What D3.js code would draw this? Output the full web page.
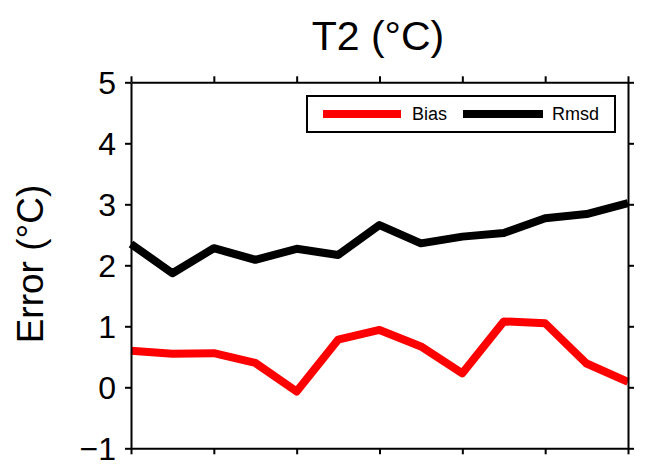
<!DOCTYPE html>
<html>
<head>
<meta charset="utf-8">
<script src="https://cdn.jsdelivr.net/npm/d3@7"></script>
<style>
  html, body { margin: 0; padding: 0; background: #fff; }
  svg { display: block; }
  text { font-family: "Liberation Sans", Arial, sans-serif; }
</style>
</head>
<body>
<svg id="chart" width="665" height="466"></svg>
<script>
const xIndex = [0, 0.5, 1, 1.5, 2, 2.5, 3, 3.5, 4, 4.5, 5, 5.5, 6];
const bias = [0.60, 0.55, 0.56, 0.40, -0.07, 0.78, 0.94, 0.67, 0.23, 1.08, 1.05, 0.39, 0.09];
const rmsd = [2.35, 1.87, 2.28, 2.09, 2.27, 2.17, 2.66, 2.36, 2.47, 2.53, 2.77, 2.84, 3.02];
const yTicks = [-1, 0, 1, 2, 3, 4, 5];
const xTicks = [0, 1, 2, 3, 4, 5, 6];
const seriesNames = ["Bias", "Rmsd"];
const seriesColors = ["#ff0000", "#000000"];
const titleText = "T2 (°C)";
const yLabelText = "Error (°C)";

const svg = d3.select("#chart");
const L = 131, R = 628, T = 82.3, B = 448.3;

const x = d3.scaleLinear().domain([0, 6]).range([L, R]);
const y = d3.scaleLinear().domain([-1, 5]).range([B, T]);

// lines
const line = d3.line().x((d, i) => x(xIndex[i])).y(d => y(d));
[bias, rmsd].forEach((s, k) => {
  svg.append("path")
    .datum(s)
    .attr("d", line)
    .attr("fill", "none")
    .attr("stroke", seriesColors[k])
    .attr("stroke-width", 8)
    .attr("stroke-linejoin", "round");
});

// axes (ticks outward, no labels except left)
function styleAxis(g) {
  g.select(".domain").attr("stroke", "#000").attr("stroke-width", 2);
  g.selectAll(".tick line").attr("stroke", "#000").attr("stroke-width", 2);
}
const axL = svg.append("g").attr("transform", `translate(${L},0)`)
  .call(d3.axisLeft(y).tickValues(yTicks).tickSize(6).tickSizeOuter(0).tickPadding(9)
    .tickFormat(d => d < 0 ? "\u2212" + Math.abs(d) : d));
styleAxis(axL);
axL.selectAll("text").attr("font-size", 32).attr("fill", "#000").attr("dy", "0.36em");

const axR = svg.append("g").attr("transform", `translate(${R},0)`)
  .call(d3.axisRight(y).tickValues(yTicks).tickSize(6).tickSizeOuter(0).tickFormat(""));
styleAxis(axR);

const axT = svg.append("g").attr("transform", `translate(0,${T})`)
  .call(d3.axisTop(x).tickValues(xTicks).tickSize(6).tickSizeOuter(0).tickFormat(""));
styleAxis(axT);

const axB = svg.append("g").attr("transform", `translate(0,${B})`)
  .call(d3.axisBottom(x).tickValues(xTicks).tickSize(6).tickSizeOuter(0).tickFormat(""));
styleAxis(axB);

// title
svg.append("text")
  .attr("x", 378).attr("y", 50)
  .attr("text-anchor", "middle")
  .attr("font-size", 41)
  .attr("fill", "#000")
  .text(titleText);

// y label
svg.append("text")
  .attr("transform", `translate(43,264) rotate(-90)`)
  .attr("text-anchor", "middle")
  .attr("font-size", 37)
  .attr("fill", "#000")
  .text(yLabelText);

// legend
const lg = svg.append("g");
lg.append("rect")
  .attr("x", 307).attr("y", 96).attr("width", 308).attr("height", 36)
  .attr("fill", "#fff").attr("stroke", "#000").attr("stroke-width", 2);
const legItems = [
  { x1: 323, x2: 401, tx: 412 },
  { x1: 463, x2: 543, tx: 552 }
];
legItems.forEach((it, k) => {
  lg.append("line")
    .attr("x1", it.x1).attr("x2", it.x2).attr("y1", 114).attr("y2", 114)
    .attr("stroke", seriesColors[k]).attr("stroke-width", 8);
  lg.append("text")
    .attr("x", it.tx).attr("y", 120)
    .attr("font-size", 18)
    .attr("fill", "#000")
    .text(seriesNames[k]);
});
</script>
</body>
</html>
